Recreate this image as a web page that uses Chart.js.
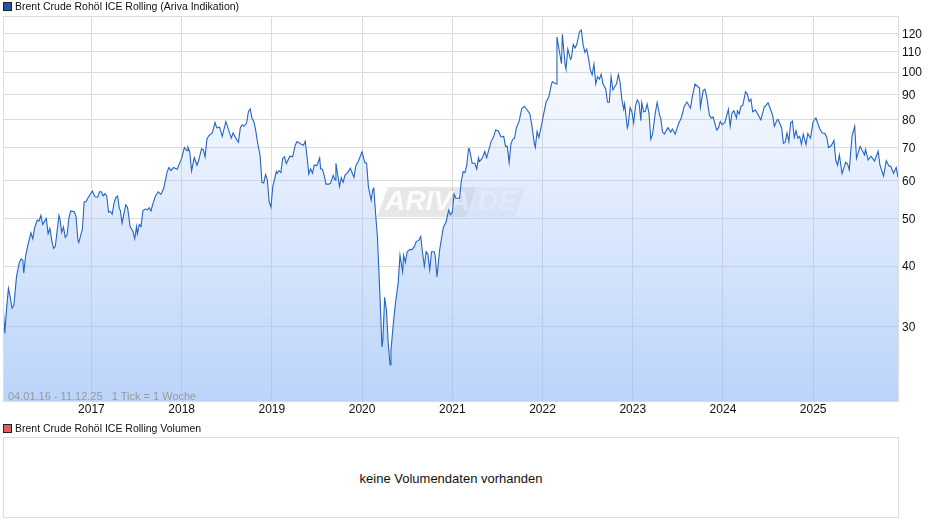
<!DOCTYPE html>
<html lang="de">
<head>
<meta charset="utf-8">
<title>Brent Crude Rohöl ICE Rolling</title>
<script src="https://cdn.jsdelivr.net/npm/chart.js@4/dist/chart.umd.min.js"></script>
<style>
	html, body { margin: 0; padding: 0; background: #fff; overflow: hidden; }
	body { width: 940px; height: 526px; position: relative; font: 12px "Liberation Sans", Arial, sans-serif; color: #111; }
	#priceChart { position: absolute; left: 0; top: 0; }
	.legend { position: absolute; left: 15px; font-size: 10.5px; line-height: 12px; white-space: nowrap; }
	.swatch { position: absolute; left: 3px; width: 7px; height: 7px; border: 1px solid #222; }
	#range { position: absolute; left: 8px; top: 390px; font-size: 11px; line-height: 12px; color: #9a9a9a; white-space: pre; }
	#volumeBox { position: absolute; left: 3px; top: 437px; width: 894px; height: 79px; border: 1px solid #ddd; text-align: center; font-size: 13px; line-height: 81px; }
</style>
</head>
<body>
<canvas id="priceChart" width="940" height="420"></canvas>
<div class="swatch" style="top:2px;background:#1c56b4"></div>
<div class="legend" style="top:0">Brent Crude Rohöl ICE Rolling (Ariva Indikation)</div>
<div id="range">04.01.16 - 11.12.25   1 Tick = 1 Woche</div>
<div class="swatch" style="top:424px;background:#d9615c"></div>
<div class="legend" style="top:422px">Brent Crude Rohöl ICE Rolling Volumen</div>
<div id="volumeBox">keine Volumendaten vorhanden</div>
<script>
const xTicks = [2017, 2018, 2019, 2020, 2021, 2022, 2023, 2024, 2025];
const yTicks = [30, 40, 50, 60, 70, 80, 90, 100, 110, 120];

// dates as decimal years, one row per year, same rows in prices
const dates = [
	2016.02,2016.04,2016.06,2016.08,2016.10,2016.12,2016.14,2016.17,2016.20,2016.22,2016.24,2016.25,2016.27,2016.30,2016.33,2016.35,2016.37,2016.40,2016.42,2016.44,2016.46,2016.50,2016.52,2016.54,2016.56,2016.58,2016.60,2016.64,2016.65,2016.67,2016.69,2016.71,2016.73,2016.75,2016.77,2016.81,2016.83,2016.85,2016.86,2016.90,2016.92,2016.94,2016.96,2016.99,
	2017.01,2017.04,2017.07,2017.09,2017.11,2017.13,2017.15,2017.17,2017.19,2017.21,2017.23,2017.25,2017.27,2017.29,2017.31,2017.32,2017.34,2017.38,2017.40,2017.43,2017.46,2017.48,2017.50,2017.51,2017.53,2017.55,2017.57,2017.60,2017.62,2017.64,2017.66,2017.68,2017.71,2017.74,2017.77,2017.80,2017.84,2017.86,2017.88,2017.91,2017.95,
	2018.00,2018.03,2018.06,2018.07,2018.09,2018.11,2018.14,2018.17,2018.19,2018.22,2018.24,2018.26,2018.28,2018.30,2018.34,2018.37,2018.39,2018.42,2018.45,2018.49,2018.55,2018.57,2018.60,2018.63,2018.65,2018.67,2018.69,2018.72,2018.74,2018.76,2018.78,2018.80,2018.82,2018.84,2018.87,2018.89,2018.91,2018.93,2018.95,2018.97,2018.99,
	2019.01,2019.05,2019.06,2019.08,2019.10,2019.12,2019.14,2019.16,2019.20,2019.23,2019.26,2019.28,2019.32,2019.35,2019.37,2019.39,2019.41,2019.43,2019.45,2019.47,2019.50,2019.53,2019.54,2019.56,2019.58,2019.60,2019.63,2019.65,2019.68,2019.70,2019.71,2019.75,2019.77,2019.79,2019.81,2019.84,2019.87,2019.91,2019.93,2019.96,
	2020.00,2020.03,2020.05,2020.07,2020.10,2020.12,2020.13,2020.15,2020.17,2020.20,2020.22,2020.23,2020.25,2020.27,2020.29,2020.31,2020.32,2020.35,2020.37,2020.40,2020.42,2020.45,2020.46,2020.48,2020.50,2020.53,2020.55,2020.58,2020.60,2020.63,2020.65,2020.67,2020.69,2020.71,2020.73,2020.75,2020.77,2020.80,2020.81,2020.83,2020.86,2020.90,2020.93,2020.96,2020.98,
	2021.00,2021.02,2021.04,2021.08,2021.10,2021.12,2021.14,2021.16,2021.18,2021.19,2021.22,2021.25,2021.27,2021.29,2021.30,2021.33,2021.36,2021.38,2021.43,2021.46,2021.48,2021.51,2021.54,2021.57,2021.59,2021.61,2021.63,2021.65,2021.67,2021.69,2021.71,2021.74,2021.77,2021.80,2021.83,2021.86,2021.88,2021.91,2021.92,2021.94,2021.96,2021.99,
	2022.01,2022.04,2022.07,2022.10,2022.11,2022.15,2022.16,2022.21,2022.22,2022.25,2022.26,2022.28,2022.31,2022.32,2022.34,2022.36,2022.38,2022.41,2022.43,2022.45,2022.47,2022.49,2022.51,2022.53,2022.55,2022.57,2022.59,2022.61,2022.63,2022.65,2022.67,2022.70,2022.72,2022.74,2022.76,2022.78,2022.82,2022.84,2022.86,2022.88,2022.90,2022.91,2022.94,2022.95,2022.97,2022.99,
	2023.01,2023.03,2023.05,2023.07,2023.09,2023.10,2023.12,2023.14,2023.16,2023.18,2023.20,2023.22,2023.25,2023.27,2023.30,2023.31,2023.33,2023.35,2023.39,2023.42,2023.44,2023.47,2023.51,2023.54,2023.57,2023.60,2023.64,2023.66,2023.69,2023.74,2023.75,2023.78,2023.80,2023.82,2023.85,2023.87,2023.89,2023.93,2023.95,2023.97,2023.99,
	2024.02,2024.06,2024.08,2024.10,2024.12,2024.15,2024.16,2024.18,2024.20,2024.22,2024.25,2024.27,2024.29,2024.31,2024.33,2024.36,2024.38,2024.42,2024.46,2024.47,2024.50,2024.53,2024.55,2024.57,2024.60,2024.61,2024.65,2024.67,2024.69,2024.71,2024.73,2024.75,2024.77,2024.79,2024.81,2024.83,2024.85,2024.87,2024.89,2024.92,2024.94,2024.97,
	2025.00,2025.03,2025.07,2025.10,2025.13,2025.15,2025.17,2025.20,2025.23,2025.25,2025.27,2025.29,2025.32,2025.36,2025.38,2025.40,2025.43,2025.46,2025.48,2025.52,2025.57,2025.58,2025.61,2025.64,2025.68,2025.72,2025.74,2025.78,2025.81,2025.84,2025.86,2025.89,2025.92,2025.94
];
const prices = [
	33.6,29.1,32.8,36,34.6,32.8,33.2,38.1,40.6,41.4,41.1,38.7,41.9,44.5,46.8,45.5,47.9,49.7,49.5,50.8,48.7,50.1,46.6,47.8,45.2,43.5,43.9,50.8,50.1,46.9,48.1,45.8,46.3,50.1,51.9,51.7,50.5,45.2,44.7,47.6,54.2,54.2,55.1,56.3,
	57,55.5,55.4,56.8,56.8,55.7,56.3,55.7,51.6,51.8,51.1,53.8,55.3,55.7,52.4,52.1,49,53.4,52.8,48.1,47.2,45.5,48.2,46.6,48.7,48.2,51.9,52.4,52.1,52.7,51.9,53.6,55.7,56.8,56.1,57.6,62.5,63.7,62.8,63.7,63.2,
	66.5,70,69,70.1,68.6,62.7,66.8,64.4,66,69.6,69.3,67,72.8,74,75,78.8,76.8,77.1,73.8,79.2,73.2,75,73.2,71.8,76.8,77.9,77.4,78.6,82.9,84,80.4,79.2,76.1,72,67.3,59.4,59.2,61.6,60.1,54.2,52.8,
	58.2,62.5,62,62.8,62.2,66.5,67,64.9,67.2,67,70.9,72,71.2,70.8,72.1,67,61.8,63.3,62,64.4,64.3,66.7,63.3,63.2,61.4,58.9,58.9,59.1,61.4,60.1,65,58.2,60.7,59.4,61.4,62.2,63.5,60.8,64.2,65.7,
	68.6,65.2,65,58.2,54.6,57.5,57.8,51.2,45.9,34.1,27.3,28.1,34.5,32.5,27.7,25.1,26.9,31,33.6,36.9,42.1,38.9,42.1,40.7,42.8,43.3,43.2,43.9,44.9,45.2,46,42.6,40,42.8,42.3,39.3,42.8,42.8,42,38,43.2,48,49.2,52.1,51,
	51.5,56.2,55.1,55.1,59.7,62.5,62.2,64.4,69.6,69.6,65,65,63.3,66.7,65.5,66.5,68.7,66.7,72,73.8,76.1,75.7,73.6,73.8,70.4,70.4,65.2,71.3,72.8,73.2,76.8,79.2,84.2,85.1,83.6,82,78,71.3,70,75.5,73.4,78,
	81.6,86.8,89,94.6,95.5,94.5,118,104,119.5,103.5,101.5,111.4,106.2,106.7,114,112,114,121,122,113.7,109.7,111.4,106.7,101,98.7,103.8,94.5,97.8,96.7,98.9,94.6,92.3,86.8,86.7,97.8,91.9,94.6,98.9,95.1,87.7,83.9,86,76.8,78,84.5,82.9,
	78.6,85,87.7,86.4,79.5,86.6,82.9,83.1,86,82.3,72.8,74.6,82.4,86.6,81.2,80.4,75.3,74.6,76.9,75.3,76.4,74.6,78.5,80.7,85,86.8,84.3,89,94.5,92.7,84.7,91.6,92.2,89,81.6,80.5,80.9,76,76.8,79.2,78,
	78.7,83.9,77.4,82.4,83.3,80.5,83.3,82,85.1,85.5,91.1,90.1,87,88,82.9,83.6,82.3,79.8,85,85.1,86.5,83.6,81.6,77.4,79.8,80,76.9,71.4,71.8,75,72,78.6,79.3,73.5,75.8,73.2,73.8,71.1,74.6,71,74.8,73.2,
	79.2,80.5,76.7,75,74.8,73.5,70,70.6,72.4,66,64.4,67.6,61.9,65.3,64.8,63,73.8,77.4,66.5,70.4,67.6,69.4,66,67.2,65.7,68.8,64.4,61.2,65.8,64.2,64.1,62,63.7,60.9
];

const gridColor = '#dcdcdc';

// frame round the plot and the two-tone logo behind the curve
const plotDecor = {
	id: 'plotDecor',
	beforeDatasetsDraw(chart) {
		const c = chart.ctx, a = chart.chartArea;
		const top = a.top + 171, bottom = a.top + 201;
		const box = (x0, x1, x2, x3, color) => {
			c.fillStyle = color;
			c.beginPath();
			c.moveTo(a.left + x0, bottom); c.lineTo(a.left + x1, top);
			c.lineTo(a.left + x2, top); c.lineTo(a.left + x3, bottom);
			c.closePath(); c.fill();
		};
		c.save();
		box(374, 385, 473, 463, 'rgba(170,170,170,0.28)');
		box(463, 473, 522, 512, 'rgba(190,195,205,0.16)');
		c.fillStyle = 'rgba(255,255,255,0.9)';
		c.font = 'italic bold 28px "Liberation Sans", Arial, sans-serif';
		c.textBaseline = 'alphabetic';
		c.fillText('ARIVA.DE', a.left + 382, a.top + 194);
		c.restore();
	},
	afterDraw(chart) {
		const c = chart.ctx, a = chart.chartArea;
		c.save();
		c.strokeStyle = gridColor;
		c.lineWidth = 1;
		c.strokeRect(a.left + 0.5, a.top + 0.5, a.right - a.left, a.bottom - a.top);
		c.restore();
	}
};

function areaFill(ctx) {
	const a = ctx.chart.chartArea;
	if (!a) return 'transparent';
	const g = ctx.chart.ctx.createLinearGradient(0, a.top + 14, 0, a.bottom);
	g.addColorStop(0, 'rgba(150,189,247,0)');
	g.addColorStop(1, 'rgba(150,189,247,0.65)');
	return g;
}

new Chart(document.getElementById('priceChart'), {
	type: 'line',
	data: {
		datasets: [{
			data: dates.map((d, i) => ({ x: d, y: prices[i] })),
			borderColor: '#2465c4',
			borderWidth: 1.1,
			pointRadius: 0,
			tension: 0,
			fill: 'start',
			backgroundColor: areaFill
		}]
	},
	options: {
		responsive: false,
		animation: false,
		layout: { padding: { left: 3, top: 16, right: 0, bottom: 0 } },
		plugins: { legend: { display: false }, tooltip: { enabled: false } },
		scales: {
			x: {
				type: 'linear',
				min: 2016.02,
				max: 2025.94,
				afterBuildTicks: axis => { axis.ticks = xTicks.map(value => ({ value })); },
				afterFit: axis => { axis.height = 19; },
				grid: { color: gridColor, drawTicks: false },
				border: { display: false },
				ticks: {
					autoSkip: false, maxRotation: 0, padding: 1, color: '#111',
					font: { family: '"Liberation Sans", Arial, sans-serif', size: 12 },
					callback: v => String(v)
				}
			},
			y: {
				type: 'logarithmic',
				position: 'right',
				min: 21.15,
				max: 130.3,
				afterBuildTicks: axis => { axis.ticks = yTicks.map(value => ({ value })); },
				afterFit: axis => { axis.width = 42; },
				grid: { color: gridColor, drawTicks: false },
				border: { display: false },
				ticks: {
					autoSkip: false, padding: 4, labelOffset: 1, color: '#111', align: 'center',
					font: { family: '"Liberation Sans", Arial, sans-serif', size: 12 },
					callback: v => String(v)
				}
			}
		}
	},
	plugins: [plotDecor]
});
</script>
</body>
</html>
